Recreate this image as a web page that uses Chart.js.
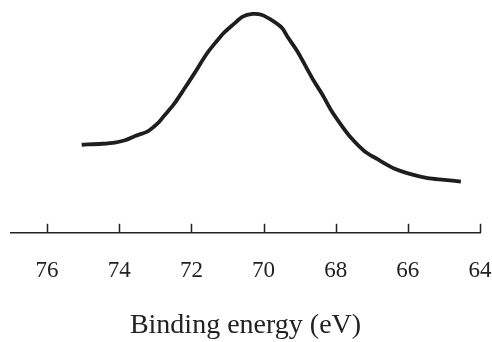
<!DOCTYPE html>
<html lang="en">
<head>
  <meta charset="UTF-8">
  <title>Binding energy</title>
  <style>
    html, body { margin: 0; padding: 0; background: #fff; }
    #wrap { width: 492px; height: 342px; }
  </style>
</head>
<body>
  <div id="wrap"><canvas id="grafica"></canvas></div>
  <script src="https://cdn.jsdelivr.net/npm/chart.js"></script>
  <script>
    const energia = [75.04, 74.48, 74.12, 73.84, 73.56, 73.20, 72.90, 72.77, 72.49, 72.21, 71.94,
      71.56, 71.29, 71.10, 70.82, 70.59, 70.31, 70.04, 69.71, 69.48, 69.34, 69.06, 68.83, 68.60,
      68.37, 68.14, 67.86, 67.58, 67.21, 66.84, 66.38, 65.92, 65.45, 64.99, 64.53];
    const intensidad = [88.5, 89.5, 90.7, 93, 97.3, 102.3, 111.3, 117, 129, 144, 159,
      180.7, 193, 201, 210, 217, 220, 219, 212.3, 205.7, 197.3, 182.3, 167.3, 152.3,
      139, 124, 109, 95.7, 82.3, 74, 64.7, 59, 55, 53.3, 51.5];
    const ticksX = [76, 74, 72, 70, 68, 66, 64];

    // marcas cortas hacia dentro sobre el eje
    const marcas = {
      id: "marcas",
      afterDraw(chart) {
        const ctx = chart.ctx;
        const x = chart.scales.x;
        const y0 = chart.chartArea.bottom;
        ctx.save();
        ctx.strokeStyle = "#222";
        ctx.lineWidth = 1.5;
        ticksX.forEach(v => {
          const px = Math.round(x.getPixelForValue(v)) + 0.5;
          ctx.beginPath();
          ctx.moveTo(px, y0);
          ctx.lineTo(px, y0 - 9);
          ctx.stroke();
        });
        ctx.restore();
      }
    };

    new Chart(document.getElementById("grafica"), {
      type: "line",
      data: {
        datasets: [{
          data: energia.map((e, i) => ({ x: e, y: intensidad[i] })),
          borderColor: "#1e1e1e",
          borderWidth: 3.8,
          pointRadius: 0,
          tension: 0.3,
          fill: false
        }]
      },
      options: {
        responsive: true,
        maintainAspectRatio: false,
        animation: false,
        layout: { padding: { left: 11, right: 0, top: 0, bottom: 0 } },
        plugins: { legend: { display: false }, tooltip: { enabled: false } },
        scales: {
          x: {
            type: "linear",
            reverse: true,
            min: 64,
            max: 77,
            afterBuildTicks: s => { s.ticks = ticksX.map(v => ({ value: v })); },
            afterFit: s => { s.paddingLeft = 0; s.paddingRight = 12; },
            grid: { display: false, drawTicks: false },
            border: { display: true, color: "#222", width: 1.5 },
            ticks: {
              maxRotation: 0,
              padding: 24,
              color: "#222",
              font: { family: "Liberation Serif", size: 23 }
            },
            title: {
              display: true,
              text: "Binding energy (eV)",
              color: "#222",
              padding: { top: 0, bottom: 0 },
              font: { family: "Liberation Serif", size: 28 }
            }
          },
          y: { display: false, min: 0, max: 234 }
        }
      },
      plugins: [marcas]
    });
  </script>
</body>
</html>
